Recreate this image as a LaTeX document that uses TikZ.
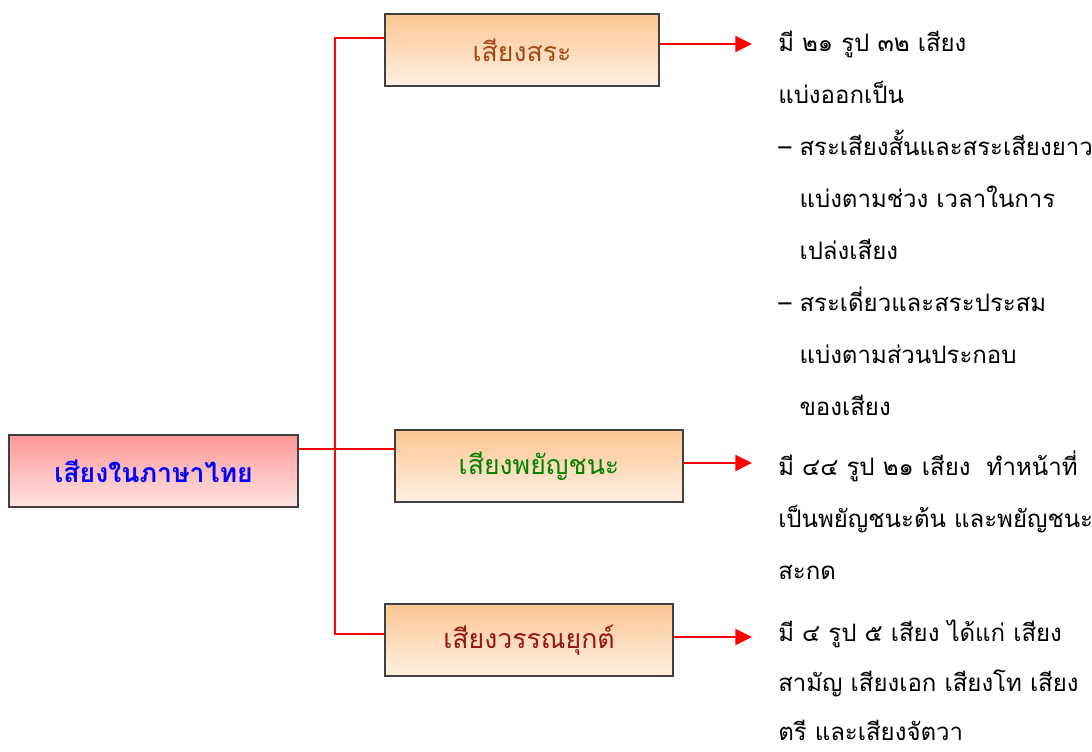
\documentclass[tikz,border=0pt]{standalone}
\usepackage{fontspec}
\newfontfamily\thaifont[Script=Thai]{Loma}
\usetikzlibrary{arrows.meta,positioning}

\definecolor{linkred}{RGB}{255,0,0}
\definecolor{rootblue}{RGB}{0,0,255}
\definecolor{vowelbrown}{RGB}{165,70,20}
\definecolor{consgreen}{RGB}{0,130,0}
\definecolor{tonered}{RGB}{150,20,20}

\tikzset{
  boxbase/.style={draw=black!75,line width=1pt,shading=axis,inner sep=0pt},
  rootbox/.style={boxbase,top color={rgb,255:red,255;green,150;blue,150},
    bottom color={rgb,255:red,255;green,228;blue,228},
    minimum width=216.75pt,minimum height=54pt,
    font=\thaifont\bfseries\fontsize{20}{24}\selectfont,text=rootblue},
  topic/.style={boxbase,top color={rgb,255:red,252;green,198;blue,146},
    bottom color={rgb,255:red,254;green,240;blue,226},
    minimum height=54pt,font=\thaifont\fontsize{20}{24}\selectfont},
  note/.style={anchor=north west,align=left,inner xsep=19.5pt,inner ysep=0pt,
    font=\thaifont\fontsize{18}{39}\selectfont},
  link/.style={linkred,line width=1.5pt},
  pointer/.style={link,-{Triangle[length=12.5pt,width=12pt]}}
}

\begin{document}
\begin{tikzpicture}[x=0.75pt,y=-0.75pt]
  \useasboundingbox (0,0) rectangle (1092,752);
  % the boxes
  \node[rootbox] (sound) at (153.5,471) {เสียงในภาษาไทย};
  \node[topic,minimum width=205.5pt,text=vowelbrown] (vowel) at (522,50) {เสียงสระ};
  \node[topic,minimum width=216pt,text=consgreen] (consonant) at (539,466) {เสียงพยัญชนะ};
  \node[topic,minimum width=216pt,text=tonered] (tone) at (529,640) {เสียงวรรณยุกต์};
  % the notes
  \node[note] (vowelnote) at (752,31) {มี ๒๑ รูป ๓๒ เสียง\\
    แบ่งออกเป็น\\
    – สระเสียงสั้นและสระเสียงยาว\\
    \hphantom{– }แบ่งตามช่วง เวลาในการ\\
    \hphantom{– }เปล่งเสียง\\
    – สระเดี่ยวและสระประสม\\
    \hphantom{– }แบ่งตามส่วนประกอบ\\
    \hphantom{– }ของเสียง};
  \node[note] (consnote) at (752,451) {มี ๔๔ รูป ๒๑ เสียง \ ทำหน้าที่\\
    เป็นพยัญชนะต้น และพยัญชนะ\\
    สะกด};
  \node[note,font=\thaifont\fontsize{18}{37}\selectfont] (tonenote) at (752,620) {มี ๔ รูป ๕ เสียง ได้แก่ เสียง\\
    สามัญ เสียงเอก เสียงโท เสียง\\
    ตรี และเสียงจัตวา};
  % connectors
  \coordinate (fork) at (335,449);
  \draw[link] (sound.east |- fork) -- (consonant.west |- fork);
  \draw[link] ([yshift=9pt]vowel.west) -| (fork)
    |- ([yshift=4.5pt]tone.west);
  \draw[pointer] ([yshift=4.5pt]vowel.east) -- ([yshift=4.5pt]vowel.east -| vowelnote.west);
  \draw[pointer] ([yshift=2.25pt]consonant.east) -- ([yshift=2.25pt]consonant.east -| consnote.west);
  \draw[pointer] ([yshift=2.25pt]tone.east) -- ([yshift=2.25pt]tone.east -| tonenote.west);
\end{tikzpicture}
\end{document}
